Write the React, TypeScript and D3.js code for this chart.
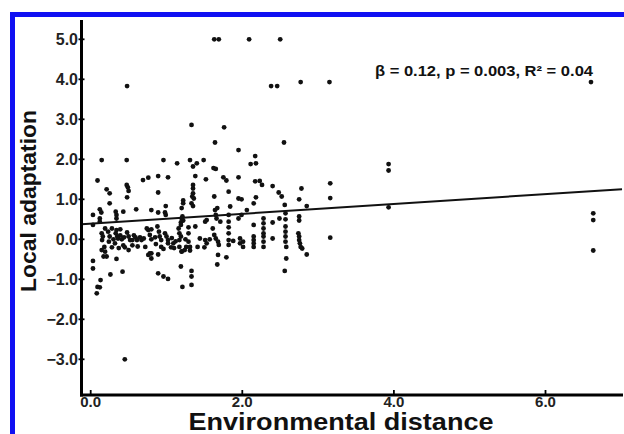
import React from "react";
import * as d3 from "d3";

// Environmental distance (x) and local adaptation (y)
const xs: number[] = [
  0.48, 1.63, 1.69, 2.09, 2.5, 2.38, 2.46, 2.77, 3.15, 6.6,
  1.33, 1.76, 1.64, 2.55, 1.95,
  0.145, 0.475, 0.96, 1.14, 1.31, 1.35, 1.4, 1.49, 1.62, 1.65, 2.11, 2.18, 2.17, 3.93, 3.93,
  0.09, 0.69, 0.76, 0.89, 1.02, 1.38, 1.52, 1.75, 1.79, 1.95, 2.17, 2.23, 2.26, 2.4, 2.78, 3.16,
  0.21, 0.25, 0.475, 0.49, 0.5, 0.48, 0.89, 1.35, 1.35, 1.35, 1.34, 1.36, 1.82, 2.48, 2.52, 1.63, 2.18, 1.95, 1.99, 2.75, 3.16,
  0.25, 1.22, 1.22, 1.33, 1.35, 1.2, 0.99, 1.67, 1.84, 2.15, 2.56, 2.85, 3.93,
  0.03, 0.12, 0.14, 0.33, 0.34, 0.34, 0.43, 0.6, 0.8, 0.89, 0.98, 0.99, 1.2, 1.19, 1.19, 1.53, 1.64, 1.65, 1.66, 1.71, 1.82, 1.82, 1.95, 1.99, 2.06, 2.15, 2.28, 2.28, 2.4, 2.49, 2.57, 2.57, 2.75, 2.75, 6.63, 6.63, 0.12, 0.12, 1.51, 1.21, 1.22,
  0.03, 0.145, 0.16, 0.15, 0.18, 0.19, 0.21, 0.23, 0.25, 0.24, 0.34, 0.33, 0.35, 0.3, 0.32, 0.39, 0.41, 0.43, 0.45, 0.48, 0.5, 0.52, 0.5, 0.57, 0.59, 0.61, 0.65, 0.67, 0.72, 0.76, 0.78, 0.8, 0.76, 0.78, 0.88, 0.9, 0.91, 0.93, 0.93, 0.98, 1.0, 1.02, 1.02, 1.06, 1.09, 1.17, 1.19, 1.17, 1.17, 1.2, 1.25, 1.26, 1.29, 1.29, 1.31, 1.38, 1.41, 1.51, 1.53, 1.61, 1.63, 1.65, 1.68, 1.69, 1.82, 1.82, 1.82, 1.82, 1.97, 1.97, 2.01, 2.01, 2.15, 2.15, 2.15, 2.15, 2.28, 2.28, 2.28, 2.28, 2.28, 2.4, 2.57, 2.57, 2.57, 2.57, 2.58, 2.74, 2.75, 2.75, 2.76, 2.77, 2.79, 3.16,
  0.19, 0.28, 0.39, 0.74, 0.8, 1.16, 1.29, 0.36, 0.44, 0.55, 0.7, 0.85, 1.07, 1.12, 1.44, 1.57, 1.88, 0.28, 0.37, 0.55, 0.62, 0.86, 1.1, 1.5,
  0.03, 0.03, 0.145, 0.17, 0.13, 0.09, 0.08, 0.12, 0.26, 0.34, 0.42, 0.8, 0.8, 0.89, 0.96, 0.89, 0.96, 1.02, 1.19, 1.33, 1.33, 1.33, 1.21, 1.68, 1.79, 1.67, 2.58, 2.56, 2.85, 0.45, 1.2, 1.24, 1.31, 6.63,
];
const ys: number[] = [
  3.83, 5.0, 5.0, 5.0, 5.0, 3.83, 3.83, 3.93, 3.93, 3.93,
  2.86, 2.8, 2.42, 2.42, 2.23,
  1.98, 1.98, 1.98, 1.9, 1.98, 1.82, 1.9, 1.98, 1.78, 1.76, 1.88, 1.9, 2.08, 1.88, 1.72,
  1.47, 1.48, 1.54, 1.58, 1.55, 1.58, 1.5, 1.55, 1.47, 1.55, 1.45, 1.46, 1.36, 1.33, 1.27, 1.4,
  1.25, 1.15, 1.36, 1.3, 1.21, 1.05, 1.17, 1.36, 1.27, 1.15, 1.07, 1.02, 1.19, 1.17, 1.07, 1.07, 1.05, 1.02, 1.0, 1.0, 1.03,
  0.9, 0.97, 0.9, 0.9, 0.83, 0.78, 0.83, 0.78, 0.82, 0.9, 0.86, 0.83, 0.8,
  0.61, 0.75, 0.67, 0.69, 0.61, 0.52, 0.69, 0.75, 0.73, 0.67, 0.67, 0.61, 0.52, 0.42, 0.36, 0.48, 0.73, 0.61, 0.52, 0.44, 0.61, 0.44, 0.52, 0.61, 0.73, 0.36, 0.52, 0.4, 0.42, 0.52, 0.65, 0.5, 0.57, 0.47, 0.65, 0.48, 0.52, 0.44, 0.44, 0.57, 0.47,
  0.36, 0.15, 0.07, -0.02, -0.19, -0.31, -0.43, 0.19, 0.07, -0.06, 0.23, 0.15, 0.07, 0.0, -0.1, 0.1, 0.0, -0.15, -0.2, 0.17, 0.07, -0.02, -0.27, 0.1, 0.05, -0.02, 0.05, -0.02, -0.19, 0.23, 0.11, 0.0, -0.39, -0.35, 0.32, 0.19, 0.07, -0.02, -0.19, 0.15, 0.07, -0.02, -0.1, -0.2, -0.1, 0.15, 0.07, -0.02, -0.19, -0.31, 0.0, -0.19, 0.15, -0.06, -0.19, 0.32, -0.19, -0.02, -0.1, 0.27, 0.11, 0.02, -0.06, -0.14, 0.3, 0.15, -0.02, -0.14, 0.02, -0.1, -0.06, -0.19, 0.07, -0.02, -0.1, -0.19, 0.27, 0.15, 0.07, -0.06, -0.19, 0.02, 0.32, 0.19, 0.07, -0.06, -0.19, 0.15, 0.07, -0.02, -0.1, -0.19, -0.23, 0.04,
  0.27, 0.27, 0.25, 0.27, 0.25, 0.27, 0.3, 0.02, 0.05, -0.02, 0.02, 0.05, 0.03, -0.05, 0.02, 0.0, -0.04, -0.2, -0.22, -0.15, -0.18, -0.12, -0.22, -0.2,
  -0.54, -0.73, -0.27, -0.43, -1.02, -1.19, -1.35, -1.2, -0.88, -0.49, -0.81, -0.35, -0.48, -0.38, -0.24, -0.85, -0.93, -0.99, -0.68, -0.79, -0.93, -1.14, -1.19, -0.39, -0.45, -0.63, -0.48, -0.79, -0.38, -3.0, -0.3, -0.27, -0.28, -0.28,
];

const xTicks: number[] = [0, 2, 4, 6];
const yTicks: number[] = [5, 4, 3, 2, 1, 0, -1, -2, -3];
const fitIntercept = 0.39;
const fitSlope = 0.123;
const statLabel = "β = 0.12, p = 0.003, R² = 0.04";
const xTitle = "Environmental distance";
const yTitle = "Local adaptation";

const W = 624;
const H = 434;
const FONT = "'Liberation Sans', Arial, Helvetica, sans-serif";

export default function App() {
  const axisX = 81.5;
  const axisY = 395;
  const x = d3.scaleLinear().domain([0, 6]).range([90.7, 90.7 + 6 * 75.8]);
  const y = d3.scaleLinear().domain([0, 5]).range([239.3, 239.3 - 5 * 40]);
  const xMin = x.invert(axisX);
  const xMax = x.invert(622);
  const fit = d3
    .line<number>()
    .x((d) => x(d))
    .y((d) => y(fitIntercept + fitSlope * d));
  const pts = xs.map((v, i) => [v, ys[i]] as [number, number]);

  return (
    <svg
      width={W}
      height={H}
      style={{ position: "absolute", left: 0, top: 0, background: "#fff" }}
      fontFamily={FONT}
    >
      <rect x={0} y={0} width={W} height={H} fill="#fff" />
      <rect x={12.5} y={14.5} width={800} height={600} fill="none" stroke="#1010f2" strokeWidth={5} />

      {pts.map((p, i) => (
        <circle key={i} cx={x(p[0])} cy={y(p[1])} r={2.4} fill="#111" />
      ))}

      <path d={fit([xMin, xMax]) || ""} stroke="#111" strokeWidth={2} fill="none" />

      <line x1={axisX} x2={axisX} y1={20} y2={axisY + 1.5} stroke="#000" strokeWidth={3} />
      <line x1={axisX - 1.5} x2={623} y1={axisY} y2={axisY} stroke="#000" strokeWidth={3} />

      {yTicks.map((t) => (
        <g key={"y" + t}>
          <line x1={axisX - 3} x2={axisX + 3} y1={y(t)} y2={y(t)} stroke="#000" strokeWidth={1.8} />
          <text x={78} y={y(t) + 5.5} textAnchor="end" fontSize={16} fontWeight="bold" fill="#222">
            {d3.format(".1f")(t)}
          </text>
        </g>
      ))}

      {xTicks.map((t) => (
        <g key={"x" + t}>
          <line x1={x(t)} x2={x(t)} y1={axisY - 5} y2={axisY} stroke="#000" strokeWidth={1.8} />
          <text x={x(t)} y={407} textAnchor="middle" fontSize={15} fontWeight="bold" fill="#222">
            {d3.format(".1f")(t)}
          </text>
        </g>
      ))}

      <text
        x={341}
        y={429.5}
        textAnchor="middle"
        fontSize={24.5}
        fontWeight="bold"
        fill="#111"
        textLength={305}
        lengthAdjust="spacingAndGlyphs"
      >
        {xTitle}
      </text>

      <text
        transform="translate(35.5,201) rotate(-90)"
        textAnchor="middle"
        fontSize={21.5}
        fontWeight="bold"
        fill="#111"
        textLength={182}
        lengthAdjust="spacingAndGlyphs"
      >
        {yTitle}
      </text>

      <text
        x={375}
        y={75.5}
        fontSize={15}
        fontWeight="bold"
        fill="#111"
        textLength={218}
        lengthAdjust="spacingAndGlyphs"
      >
        {statLabel}
      </text>
    </svg>
  );
}
